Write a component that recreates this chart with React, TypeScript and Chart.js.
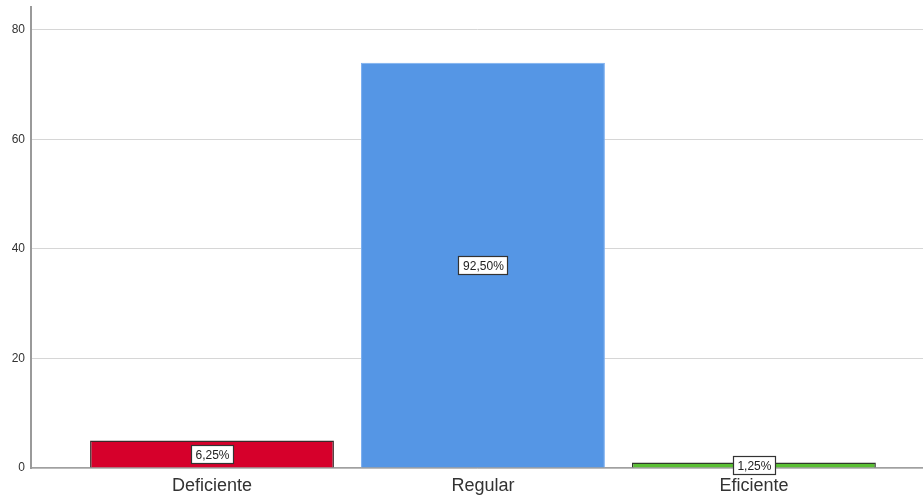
import React, { useEffect, useRef } from "react";
import { Chart, registerables } from "chart.js";

Chart.register(...registerables);

const categories = ["Deficiente", "Regular", "Eficiente"];
const counts = [5, 74, 1];
const percentLabels = ["6,25%", "92,50%", "1,25%"];
const barColors = ["#d6002b", "#5596e5", "#5ac034"];
const barBorders = ["#3a2a2a", "#7aaef0", "#2f3a2a"];
const yTicks = [0, 20, 40, 60, 80];

const valueBoxes = {
  id: "valueBoxes",
  afterDatasetsDraw(chart: any) {
    const ctx = chart.ctx;
    const meta = chart.getDatasetMeta(0);
    ctx.save();
    ctx.font = "12px 'Liberation Sans', Arial, sans-serif";
    ctx.textAlign = "center";
    ctx.textBaseline = "middle";
    meta.data.forEach((bar: any, i: number) => {
      const { x, y, base } = bar.getProps(["x", "y", "base"], true);
      const cy = (y + base) / 2;
      const text = percentLabels[i];
      const w = Math.round(ctx.measureText(text).width + 8);
      const h = 18;
      const left = Math.round(x - w / 2);
      const top = Math.round(cy - h / 2);
      ctx.fillStyle = "#ffffff";
      ctx.fillRect(left, top, w, h);
      ctx.strokeStyle = "#333333";
      ctx.lineWidth = 1.2;
      ctx.strokeRect(left + 0.5, top + 0.5, w, h);
      ctx.fillStyle = "#222222";
      ctx.fillText(text, x + 0.5, cy + 1.5);
    });
    ctx.restore();
  },
};

export default function App() {
  const ref = useRef<HTMLCanvasElement>(null);

  useEffect(() => {
    document.body.style.margin = "0";
    const chart = new Chart(ref.current!, {
      type: "bar",
      data: {
        datasets: [
          {
            data: counts.map((v, i) => ({ x: i + 1, y: v })),
            backgroundColor: barColors,
            borderColor: barBorders,
            borderWidth: [1.5, 1, 1.5],
            barPercentage: 0.9,
            categoryPercentage: 1,
          },
        ],
      },
      options: {
        animation: false,
        responsive: false,
        maintainAspectRatio: false,
        layout: { padding: { top: 7, right: 0, left: 0, bottom: 0 } },
        plugins: { legend: { display: false }, tooltip: { enabled: false } },
        scales: {
          x: {
            type: "linear",
            offset: false,
            min: 0.332,
            max: 3.624,
            afterBuildTicks(scale: any) {
              scale.ticks = [1, 2, 3].map((v) => ({ value: v }));
            },
            afterFit(scale: any) {
              scale.height = 31;
              scale.paddingLeft = 0;
              scale.paddingRight = 0;
            },
            grid: { display: false, drawTicks: false },
            border: { display: true, color: "#a0a0a0", width: 1.5 },
            ticks: {
              autoSkip: false,
              maxRotation: 0,
              padding: 7,
              color: "#333333",
              font: { family: "'Liberation Sans', Arial, sans-serif", size: 18 },
              callback: (v: any) => categories[Number(v) - 1] ?? "",
            },
          },
          y: {
            min: 0,
            max: 84.2,
            afterBuildTicks(scale: any) {
              scale.ticks = yTicks.map((v) => ({ value: v }));
            },
            afterFit(scale: any) {
              scale.width = 31;
              scale.paddingTop = 0;
              scale.paddingBottom = 0;
            },
            grid: { color: "#d6d6d6", lineWidth: 1, drawTicks: false },
            border: { display: true, color: "#9a9a9a", width: 2 },
            ticks: {
              padding: 6,
              color: "#333333",
              font: { family: "'Liberation Sans', Arial, sans-serif", size: 12 },
            },
          },
        },
      },
      plugins: [valueBoxes],
    });
    return () => chart.destroy();
  }, []);

  return (
    <div style={{ position: "absolute", left: 0, top: 0, width: 923, height: 499, background: "#fff" }}>
      <canvas ref={ref} width={923} height={499} />
    </div>
  );
}
